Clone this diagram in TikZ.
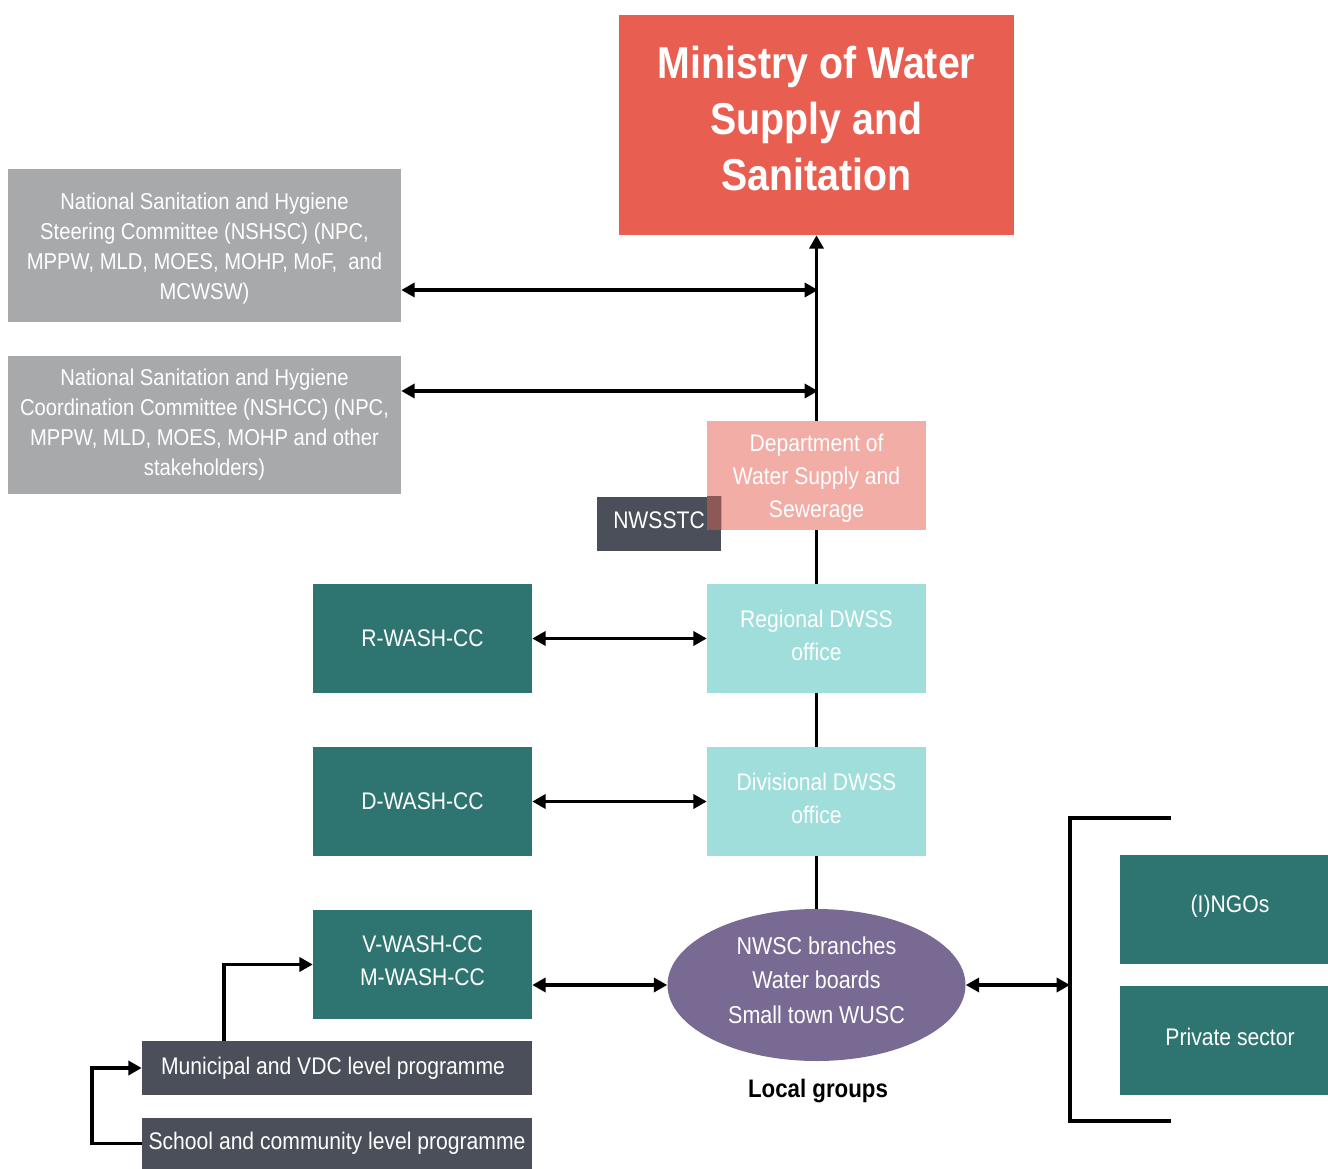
\documentclass[tikz,border=0pt]{standalone}
\usepackage{fontspec}
\setmainfont{Liberation Sans}[FakeStretch=0.88]
\usetikzlibrary{arrows.meta,shapes.geometric}
\definecolor{minred}{HTML}{E85E50}
\definecolor{nsgray}{HTML}{A8A9AB}
\definecolor{deptpink}{HTML}{F2ADA6}
\definecolor{slate}{HTML}{4A4F5A}
\definecolor{overlap}{HTML}{8E5856}
\definecolor{lteal}{HTML}{A0DEDB}
\definecolor{dteal}{HTML}{2E7571}
\definecolor{lgpurple}{HTML}{786A93}
\tikzset{
  box/.style={rectangle, inner sep=0pt, align=center, text=white,
    font=\fontsize{18}{24.75}\selectfont},
  widebox/.style={box, minimum width=164.25pt, minimum height=81.75pt},
  conn/.style={line width=2.5pt, draw=black},
  >={Triangle[length=10pt,width=10.5pt]}
}
\begin{document}
\begin{tikzpicture}[x=0.75pt,y=-0.75pt]
\useasboundingbox (0,0) rectangle (1328,1169);

% top
\node[box, fill=minred, minimum width=296.25pt, minimum height=165pt] (min) at (816.5,125) {};
\node[text=white, align=center, inner sep=0pt,
  font=\bfseries\fontsize{33.5}{42}\selectfont] (mint) at (816.5,119)
  {Ministry of Water\\Supply and\\Sanitation};

\node[box, fill=nsgray, minimum width=294.75pt, minimum height=114.75pt] (nshsc) at (204.5,245.5) {};
\node[text=white, align=center, inner sep=0pt,
  font=\fontsize{17.2}{22.5}\selectfont] (nshsct) at (204.5,249)
  {National Sanitation and Hygiene\\Steering Committee (NSHSC) (NPC,\\MPPW, MLD, MOES, MOHP, MoF,\ \ and\\MCWSW)};

\node[box, fill=nsgray, minimum width=294.75pt, minimum height=103.5pt] (nshcc) at (204.5,425) {};
\node[text=white, align=center, inner sep=0pt,
  font=\fontsize{17.2}{22.5}\selectfont] (nshcct) at (204.5,425)
  {National Sanitation and Hygiene\\Coordination Committee (NSHCC) (NPC,\\MPPW, MLD, MOES, MOHP and other\\stakeholders)};

% NWSSTC and department
\node[box, fill=slate, minimum width=93pt, minimum height=40.5pt] (nw) at (659,524) {};
\node[widebox, fill=deptpink] (dept) at (816.5,475.5) {};
\begin{scope}
  \clip (nw.south west) rectangle (nw.north east);
  \fill[overlap] (dept.south west) rectangle (dept.north east);
\end{scope}
\node[text=white, align=center, inner sep=0pt,
  font=\fontsize{18}{24.75}\selectfont] (deptt) at (816.5,478.5)
  {Department of\\Water Supply and\\Sewerage};
\node[text=white, font=\fontsize{18}{24.75}\selectfont, inner sep=0pt] (nwt) at (659,520) {NWSSTC};

\node[widebox, fill=lteal] (reg) at (816.5,638.5) {};
\node[text=white, align=center, inner sep=0pt,
  font=\fontsize{18}{24.75}\selectfont] (regt) at (816.5,635.5) {Regional DWSS\\office};
\node[widebox, fill=lteal] (div) at (816.5,801.5) {};
\node[text=white, align=center, inner sep=0pt,
  font=\fontsize{18}{24.75}\selectfont] (divt) at (816.5,798.5) {Divisional DWSS\\office};

\node[widebox, fill=dteal] (rw) at (422.5,638.5) {R-WASH-CC};
\node[widebox, fill=dteal] (dw) at (422.5,801.5) {D-WASH-CC};
\node[widebox, fill=dteal] (vm) at (422.5,964.5) {};
\node[text=white, align=center, inner sep=0pt,
  font=\fontsize{18}{24.75}\selectfont] (vmt) at (422.5,961) {V-WASH-CC\\M-WASH-CC};

\node[ellipse, fill=lgpurple, inner sep=0pt,
  minimum width=223.5pt, minimum height=114pt] (lg) at (816.5,985) {};
\node[text=white, align=center, inner sep=0pt,
  font=\fontsize{18.3}{25.8}\selectfont] (lgt) at (816.5,980)
  {NWSC branches\\Water boards\\Small town WUSC};
\node[font=\bfseries\fontsize{19}{22}\selectfont, inner sep=0pt] (lgl) at (818,1091) {Local groups};

\node[box, fill=dteal, minimum width=156pt, minimum height=81.75pt] (ngo) at (1224,909.5) {};
\node[text=white, inner sep=0pt, font=\fontsize{18}{24.75}\selectfont] (ngot) at (1230,906) {(I)NGOs};
\node[box, fill=dteal, minimum width=156pt, minimum height=81.75pt] (priv) at (1224,1040.5) {};
\node[text=white, inner sep=0pt, font=\fontsize{18}{24.75}\selectfont] (privt) at (1230,1037) {Private sector};

\node[box, fill=slate, minimum width=292.5pt, minimum height=40.5pt] (mun) at (337,1068) {};
\node[text=white, inner sep=0pt, font=\fontsize{18}{24.75}\selectfont] (munt) at (333,1068) {Municipal and VDC level programme};
\node[box, fill=slate, minimum width=292.5pt, minimum height=38.25pt] (sch) at (337,1143.5) {School and community level programme};

% coordinates
\coordinate (j1) at (818,290);
\coordinate (j2) at (818,391);
\coordinate (bt) at (1171,818);
\coordinate (bt1) at (1070,818);
\coordinate (bb1) at (1070,1121);
\coordinate (bb) at (1171,1121);
\coordinate (mx) at (224,965);
\coordinate (sx) at (92,1100);

% connectors
\draw[conn,->] (dept.north) -- (min.south);
\draw[conn,<->] (nshsc.east |- j1) -- (j1);
\draw[conn,<->] (nshcc.east |- j2) -- (j2);
\draw[conn] (dept.south) -- (reg.north);
\draw[conn] (reg.south) -- (div.north);
\draw[conn] (div.south) -- (lg.north);
\draw[conn,<->] (rw.east) -- (reg.west);
\draw[conn,<->] (dw.east) -- (div.west);
\draw[conn,<->] (vm.east |- lg.west) -- (lg.west);
\draw[conn] (bt) -- (bt1) -- (bb1) -- (bb);
\draw[conn,<->] (lg.east) -- (lg.east -| bt1);
\draw[conn,->] (mun.north -| mx) |- (vm.west);
\draw[conn,->] (sch.west) -- (sch.west -| sx) |- (mun.west);
\end{tikzpicture}
\end{document}
